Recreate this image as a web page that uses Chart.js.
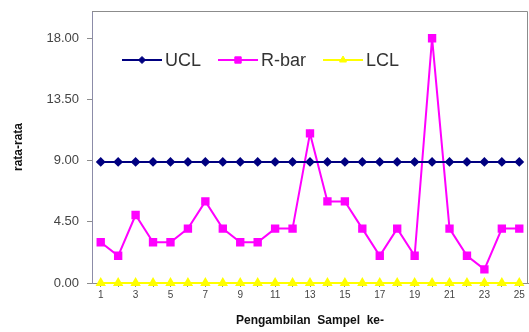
<!DOCTYPE html>
<html>
<head>
<meta charset="utf-8">
<script src="https://cdn.jsdelivr.net/npm/chart.js@4/dist/chart.umd.min.js"></script>
<style>
  html, body { margin: 0; padding: 0; background: #fff; }
  #wrap { width: 529px; height: 332px; position: relative; }
</style>
</head>
<body>
<div id="wrap"><canvas id="chart"></canvas></div>
<script>
const samples = ['1','2','3','4','5','6','7','8','9','10','11','12','13','14','15','16','17','18','19','20','21','22','23','24','25'];
const uclValues = [8.9,8.9,8.9,8.9,8.9,8.9,8.9,8.9,8.9,8.9,8.9,8.9,8.9,8.9,8.9,8.9,8.9,8.9,8.9,8.9,8.9,8.9,8.9,8.9,8.9];
const rbarValues = [3,2,5,3,3,4,6,4,3,3,4,4,11,6,6,4,2,4,2,18,4,2,1,4,4];
const lclValues = [0,0,0,0,0,0,0,0,0,0,0,0,0,0,0,0,0,0,0,0,0,0,0,0,0];
const yTicks = [0, 4.5, 9, 13.5, 18];

const FONT = "'Liberation Sans', Arial, sans-serif";

// legend drawn inside the plot, like the original
const insideLegend = {
    id: 'insideLegend',
    afterDraw(chart) {
        const ctx = chart.ctx;
        const y = 60;
        let x = 122;
        ctx.save();
        ctx.font = '18px ' + FONT;
        ctx.textBaseline = 'middle';
        chart.data.datasets.forEach(ds => {
            ctx.strokeStyle = ds.borderColor;
            ctx.lineWidth = 2;
            ctx.beginPath();
            ctx.moveTo(x, y);
            ctx.lineTo(x + 40, y);
            ctx.stroke();
            ctx.fillStyle = ds.pointBackgroundColor;
            ctx.strokeStyle = ds.pointBorderColor;
            ctx.lineWidth = 1;
            Chart.helpers.drawPoint(ctx, {
                pointStyle: ds.pointStyle,
                radius: ds.pointRadius,
                borderWidth: 1,
                rotation: 0
            }, x + 20, y);
            ctx.fillStyle = '#333';
            ctx.fillText(ds.label, x + 43, y + 1);
            x += 43 + ctx.measureText(ds.label).width + 17;
        });
        ctx.restore();
    }
};

const plotBorder = {
    id: 'plotBorder',
    beforeDatasetsDraw(chart) {
        const a = chart.chartArea;
        const ctx = chart.ctx;
        ctx.save();
        ctx.strokeStyle = '#8c8c8c';
        ctx.lineWidth = 1;
        ctx.beginPath();
        ctx.moveTo(a.left, a.top + 0.5);
        ctx.lineTo(a.right - 0.5, a.top + 0.5);
        ctx.lineTo(a.right - 0.5, a.bottom);
        ctx.stroke();
        ctx.restore();
    }
};

function series(label, data, color, style, radius) {
    return {
        label: label,
        data: data,
        borderColor: color,
        backgroundColor: color,
        pointBackgroundColor: color,
        pointBorderColor: color,
        pointStyle: style,
        pointRadius: radius,
        borderWidth: 2,
        tension: 0,
        clip: 8
    };
}

new Chart(document.getElementById('chart'), {
    type: 'line',
    data: {
        labels: samples,
        datasets: [
            series('UCL', uclValues, '#000080', 'rectRot', 3.5),
            series('R-bar', rbarValues, '#ff00ff', 'rect', 4.5),
            series('LCL', lclValues, '#ffff00', 'triangle', 4)
        ]
    },
    plugins: [plotBorder, insideLegend],
    options: {
        responsive: true,
        maintainAspectRatio: false,
        animation: false,
        layout: { autoPadding: false, padding: { top: 11, right: 1, left: 0, bottom: 0 } },
        plugins: {
            legend: { display: false },
            tooltip: { enabled: false }
        },
        scales: {
            x: {
                offset: true,
                afterFit(axis) {
                    axis.height = 49;
                    axis.paddingLeft = 0;
                    axis.paddingRight = 0;
                },
                grid: {
                    drawOnChartArea: false,
                    tickLength: 4,
                    color: '#8c8c8c'
                },
                border: { color: '#8c8c8c' },
                ticks: {
                    autoSkip: false,
                    maxRotation: 0,
                    padding: 2,
                    color: '#444',
                    font: { family: FONT, size: 10 },
                    callback(v, i) { return i % 2 === 0 ? samples[i] : ''; }
                },
                title: {
                    display: true,
                    text: 'Pengambilan  Sampel  ke-',
                    color: '#111',
                    font: { family: FONT, size: 12, weight: 'bold' },
                    padding: { top: 6 }
                }
            },
            y: {
                min: 0,
                max: 20,
                afterFit(axis) {
                    axis.width = 92;
                    axis.paddingTop = 0;
                    axis.paddingBottom = 0;
                },
                afterBuildTicks(axis) { axis.ticks = yTicks.map(v => ({ value: v })); },
                grid: {
                    drawOnChartArea: false,
                    tickLength: 5,
                    color: '#8c8c8c'
                },
                border: { color: '#8c8ca8' },
                ticks: {
                    padding: 8,
                    color: '#444',
                    font: { family: FONT, size: 13 },
                    callback(v) { return Number(v).toFixed(2); }
                },
                title: {
                    display: true,
                    text: 'rata-rata',
                    color: '#111',
                    font: { family: FONT, size: 12, weight: 'bold' },
                    padding: { top: 11, bottom: 4 }
                }
            }
        }
    }
});
</script>
</body>
</html>
